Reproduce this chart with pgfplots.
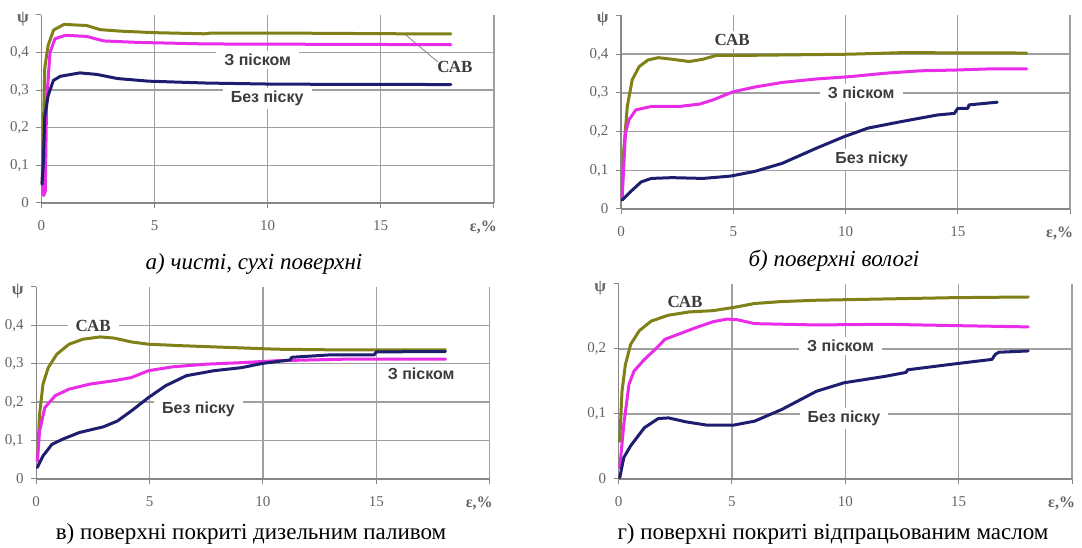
\documentclass[border=0pt]{standalone}
\usepackage{fontspec}
\setmainfont{Liberation Serif}
\newfontfamily\lsans{Liberation Sans}
\usepackage{pgfplots}
\pgfplotsset{compat=1.18}
\definecolor{olv}{RGB}{128,128,24}
\definecolor{mag}{RGB}{232,44,232}
\definecolor{nav}{RGB}{30,30,112}
\definecolor{gr}{RGB}{160,160,160}
\definecolor{axc}{RGB}{135,135,135}
\definecolor{txt}{RGB}{60,60,60}
\definecolor{tk}{RGB}{100,100,100}
\tikzset{
  lab/.style={font=\lsans\bfseries\fontsize{16}{18}\selectfont, text=txt, fill=white, inner xsep=8pt, inner ysep=3pt},
  labs/.style={font=\bfseries\fontsize{17}{19}\selectfont, text=txt, fill=white, inner xsep=8pt, inner ysep=3pt},
}
\pgfplotsset{
  panel/.style={
    scale only axis, anchor=south west,
    xmin=0, xmax=20, ymin=0,
    axis x line*=bottom, axis y line*=left,
    axis line style={axc, line width=1.3pt},
    grid=major, major grid style={gr, line width=1.4pt},
    tick align=outside, major tick length=5pt,
    tick style={axc, line width=1pt},
    xtick={0,5,10,15,20}, xticklabels={0,5,10,15,{\bfseries\fontsize{16}{18}\selectfont\llap{ε,\%\hspace{-3pt}}}},
    ticklabel style={font=\fontsize{15}{17}\selectfont, text=tk},
    xticklabel style={yshift=-9pt},
    yticklabel style={xshift=-4pt},
    extra y tick style={grid=none, yticklabel style={yshift=-4pt}},
    extra y tick labels={\bfseries\fontsize{17}{19}\selectfont ψ},
    clip=false,
  },
  cv/.style={line width=3pt, line join=round, line cap=round},
}
\begin{document}
\begin{tikzpicture}
\useasboundingbox (0,0) rectangle (1082pt,548pt);
% ---------------- a
\begin{axis}[panel, at={(41.4pt,345pt)}, width=452.4pt, height=188pt, ymax=0.5,
  ytick={0,0.1,0.2,0.3,0.4}, yticklabels={0,{0,1},{0,2},{0,3},{0,4}}, extra y ticks={0.5}]
\node[lab] at (axis cs:9.56,0.381) {З піском};
\node[lab] at (axis cs:9.98,0.277) {Без піску};
\draw[gray, line width=0.8pt] (axis cs:16.07,0.449) -- (axis cs:17.53,0.375);
\node[labs, fill=none] at (axis cs:18.28,0.362) {САВ};
\addplot[cv, olv] coordinates {(0.03,0.05)(0.08,0.18)(0.15,0.36)(0.3,0.42)(0.54,0.46)(1.0,0.475)(2.0,0.472)(2.6,0.461)(3.5,0.457)(5,0.453)(7.2,0.450)(7.5,0.452)(10.4,0.452)(16,0.450)(18.1,0.450)};
\addplot[cv, mag] coordinates {(0.05,0.05)(0.1,0.02)(0.17,0.03)(0.23,0.27)(0.38,0.40)(0.6,0.437)(1.07,0.446)(2,0.443)(2.75,0.431)(4.3,0.427)(7.3,0.423)(18.1,0.421)};
\addplot[cv, nav] coordinates {(0.03,0.05)(0.08,0.10)(0.15,0.23)(0.3,0.286)(0.53,0.326)(0.84,0.337)(1.7,0.346)(2.45,0.342)(3.36,0.331)(4.74,0.324)(7.3,0.319)(10.4,0.316)(18.1,0.315)};
\end{axis}
% ---------------- b
\begin{axis}[panel, at={(621pt,339pt)}, width=449pt, height=193.5pt, ymax=0.5,
  ytick={0,0.1,0.2,0.3,0.4}, yticklabels={0,{0,1},{0,2},{0,3},{0,4}}, extra y ticks={0.5}]
\node[labs] at (axis cs:4.95,0.437) {САВ};
\node[lab] at (axis cs:10.7,0.299) {З піском};
\node[lab] at (axis cs:11.17,0.127) {Без піску};
\addplot[cv, olv] coordinates {(0.05,0.03)(0.12,0.15)(0.28,0.265)(0.5,0.334)(0.81,0.368)(1.2,0.385)(1.66,0.391)(2.27,0.387)(3.04,0.381)(3.65,0.387)(4.26,0.397)(5.64,0.397)(10.2,0.400)(12.5,0.404)(18.07,0.403)};
\addplot[cv, mag] coordinates {(0.05,0.03)(0.2,0.196)(0.35,0.23)(0.66,0.256)(1.35,0.265)(2.6,0.265)(3.5,0.271)(4.1,0.282)(5.0,0.303)(5.95,0.315)(7.18,0.327)(8.7,0.336)(10.2,0.342)(11.8,0.351)(13.3,0.357)(14.85,0.359)(16.4,0.362)(18.07,0.362)};
\addplot[cv, nav] coordinates {(0.05,0.023)(0.43,0.045)(0.9,0.07)(1.35,0.079)(2.27,0.081)(3.65,0.079)(4.88,0.085)(5.95,0.097)(7.18,0.118)(8.7,0.157)(9.94,0.187)(11,0.209)(12.5,0.226)(14.1,0.243)(14.85,0.247)(15.0,0.26)(15.45,0.26)(15.5,0.269)(16.76,0.276)};
\end{axis}
% ---------------- c
\begin{axis}[panel, at={(36.2pt,69pt)}, width=453.5pt, height=192pt, ymax=0.5,
  ytick={0,0.1,0.2,0.3,0.4}, yticklabels={0,{0,1},{0,2},{0,3},{0,4}}, extra y ticks={0.5}]
\node[labs] at (axis cs:2.51,0.399) {САВ};
\node[lab] at (axis cs:16.98,0.275) {З піском};
\node[lab] at (axis cs:7.16,0.182) {Без піску};
\addplot[cv, olv] coordinates {(0.05,0.047)(0.15,0.169)(0.3,0.247)(0.53,0.29)(0.91,0.325)(1.45,0.351)(2.06,0.364)(2.82,0.37)(3.43,0.367)(4.19,0.357)(4.95,0.351)(6.47,0.347)(8.3,0.343)(10.6,0.338)(13.6,0.336)(18.05,0.336)};
\addplot[cv, mag] coordinates {(0.05,0.047)(0.15,0.125)(0.38,0.186)(0.84,0.217)(1.45,0.234)(2.36,0.247)(3.43,0.256)(4.19,0.264)(4.95,0.282)(6.0,0.292)(7.5,0.299)(9.06,0.303)(10.6,0.308)(13.6,0.312)(18.05,0.312)};
\addplot[cv, nav] coordinates {(0.05,0.03)(0.3,0.06)(0.69,0.09)(1.14,0.103)(1.9,0.121)(2.97,0.136)(3.58,0.151)(4.19,0.177)(4.95,0.212)(5.71,0.243)(6.62,0.269)(7.84,0.282)(9.06,0.29)(9.97,0.301)(11.2,0.31)(11.27,0.317)(12.9,0.323)(14.9,0.323)(15.0,0.331)(18.05,0.332)};
\end{axis}
% ---------------- d
\begin{axis}[panel, at={(618.6pt,69pt)}, width=453.4pt, height=195pt, ymax=0.3,
  ytick={0,0.1,0.2}, yticklabels={0,{0,1},{0,2}}, extra y ticks={0.3}]
\node[labs] at (axis cs:2.93,0.273) {САВ};
\node[lab] at (axis cs:9.79,0.205) {З піском};
\node[lab] at (axis cs:9.94,0.093) {Без піску};
\addplot[cv, olv] coordinates {(0.05,0.058)(0.15,0.135)(0.3,0.176)(0.53,0.207)(0.91,0.228)(1.44,0.243)(2.2,0.252)(3.11,0.257)(4.17,0.259)(5.09,0.264)(6.0,0.27)(7.2,0.273)(8.73,0.275)(11.77,0.277)(14.8,0.279)(18.07,0.28)};
\addplot[cv, mag] coordinates {(0.05,0.017)(0.23,0.084)(0.46,0.146)(0.68,0.166)(1.14,0.184)(1.6,0.199)(2.05,0.215)(2.66,0.223)(3.42,0.233)(4.17,0.242)(4.78,0.246)(5.24,0.245)(6.0,0.239)(8.73,0.237)(11.77,0.238)(14.8,0.236)(18.07,0.234)};
\addplot[cv, nav] coordinates {(0.05,0.002)(0.23,0.033)(0.53,0.051)(1.14,0.079)(1.75,0.093)(2.2,0.094)(2.96,0.088)(3.87,0.083)(5.09,0.083)(6.0,0.089)(7.2,0.107)(8.73,0.135)(9.94,0.148)(11.77,0.158)(12.68,0.164)(12.75,0.168)(14.8,0.177)(16.47,0.184)(16.62,0.192)(16.78,0.195)(18.07,0.197)};
\end{axis}
% captions
\node[font=\itshape\fontsize{23}{27}\selectfont] at (254pt,284pt) {а) чисті, сухі поверхні};
\node[font=\itshape\fontsize{23}{27}\selectfont] at (834pt,287pt) {б) поверхні вологі};
\node[font=\fontsize{23}{27}\selectfont] at (251pt,14pt) {в) поверхні покриті дизельним паливом};
\node[font=\fontsize{23}{27}\selectfont] at (833pt,14pt) {г) поверхні покриті відпрацьованим маслом};
\end{tikzpicture}
\end{document}
